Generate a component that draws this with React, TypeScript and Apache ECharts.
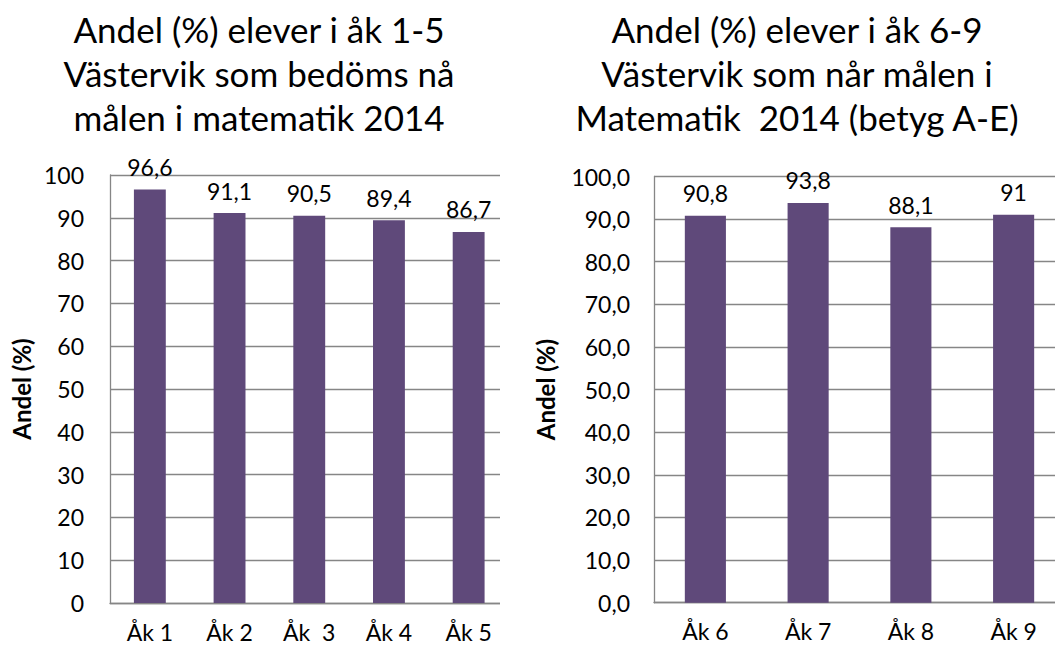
import React, { useEffect, useRef } from "react";
import * as echarts from "echarts";

// ---- data ----
const leftCategories = ["Åk 1", "Åk 2", "Åk  3", "Åk 4", "Åk 5"];
const leftValues = [96.6, 91.1, 90.5, 89.4, 86.7];
const leftTitle = ["Andel (%) elever i åk 1-5", "Västervik som bedöms nå", "målen i matematik 2014"];

const rightCategories = ["Åk 6", "Åk 7", "Åk 8", "Åk 9"];
const rightValues = [90.8, 93.8, 88.1, 91];
const rightTitle = ["Andel (%) elever i åk 6-9", "Västervik som når målen i", "Matematik  2014 (betyg A-E)"];

const yAxisName = "Andel (%)";
const yMin = 0;
const yMax = 100;
const yInterval = 10;

const FONT = "Lato, 'Open Sans', sans-serif";
const BAR = "#5F497A";
const GRID = "#868686";

type PanelProps = {
  left: number;
  clipWidth: number;
  chartWidth: number;
  categories: string[];
  values: number[];
  title: string[];
  titleX: number;
  gridLeft: number;
  gridTop: number;
  gridWidth: number;
  gridHeight: number;
  decimals: number;
  labelMargin: number;
  nameGap: number;
};

function Panel(p: PanelProps) {
  const ref = useRef<HTMLDivElement>(null);
  useEffect(() => {
    if (!ref.current) return;
    const chart = echarts.init(ref.current, undefined, { renderer: "svg" });
    chart.setOption({
      animation: false,
      backgroundColor: "transparent",
      graphic: [
        {
          type: "text",
          x: p.titleX,
          y: 7,
          style: {
            text: p.title.join("\n"),
            font: `35px ${FONT}`,
            fill: "#000",
            textAlign: "center",
            textVerticalAlign: "top",
            lineHeight: 44,
          },
        },
      ],
      grid: {
        left: p.gridLeft,
        top: p.gridTop,
        width: p.gridWidth,
        height: p.gridHeight,
        containLabel: false,
      },
      xAxis: {
        type: "category",
        data: p.categories,
        axisLine: { show: true, lineStyle: { color: GRID, width: 1.3 } },
        axisTick: { show: false },
        axisLabel: {
          color: "#000",
          fontFamily: FONT,
          fontSize: 23,
          margin: 17,
          interval: 0,
        },
      },
      yAxis: {
        type: "value",
        min: yMin,
        max: yMax,
        interval: yInterval,
        name: yAxisName,
        nameLocation: "middle",
        nameRotate: 90,
        nameGap: p.nameGap,
        nameTextStyle: {
          color: "#000",
          fontFamily: FONT,
          fontSize: 24,
          fontWeight: "bold",
        },
        axisLine: { show: true, lineStyle: { color: GRID, width: 1.3 } },
        axisTick: { show: false },
        splitLine: { show: true, lineStyle: { color: GRID, width: 1.3 } },
        axisLabel: {
          color: "#000",
          fontFamily: FONT,
          fontSize: 23,
          margin: p.labelMargin,
          formatter: (v: number) => v.toFixed(p.decimals).replace(".", ","),
        },
      },
      series: [
        {
          type: "bar",
          data: p.values,
          barWidth: "40%",
          itemStyle: { color: BAR },
          label: {
            show: true,
            position: "top",
            distance: 11,
            color: "#000",
            fontFamily: FONT,
            fontSize: 23,
            formatter: (d: any) => String(d.value).replace(".", ","),
          },
        },
      ],
    });
    return () => chart.dispose();
  }, []);
  return (
    <div
      style={{
        position: "absolute",
        left: p.left,
        top: 0,
        width: p.clipWidth,
        height: 647,
        overflow: "hidden",
      }}
    >
      <div ref={ref} style={{ width: p.chartWidth, height: 647 }} />
    </div>
  );
}

export default function App() {
  return (
    <div
      style={{
        position: "absolute",
        left: 0,
        top: 0,
        width: 1055,
        height: 647,
        background: "#fff",
        overflow: "hidden",
      }}
    >
      <Panel
        left={0}
        clipWidth={500}
        chartWidth={540}
        categories={leftCategories}
        values={leftValues}
        title={leftTitle}
        titleX={259}
        gridLeft={110}
        gridTop={175}
        gridWidth={398.5}
        gridHeight={428}
        decimals={0}
        labelMargin={26}
        nameGap={76}
      />
      <Panel
        left={500}
        clipWidth={555}
        chartWidth={600}
        categories={rightCategories}
        values={rightValues}
        title={rightTitle}
        titleX={297}
        gridLeft={154}
        gridTop={176.5}
        gridWidth={411}
        gridHeight={426.2}
        decimals={1}
        labelMargin={24}
        nameGap={97}
      />
    </div>
  );
}
